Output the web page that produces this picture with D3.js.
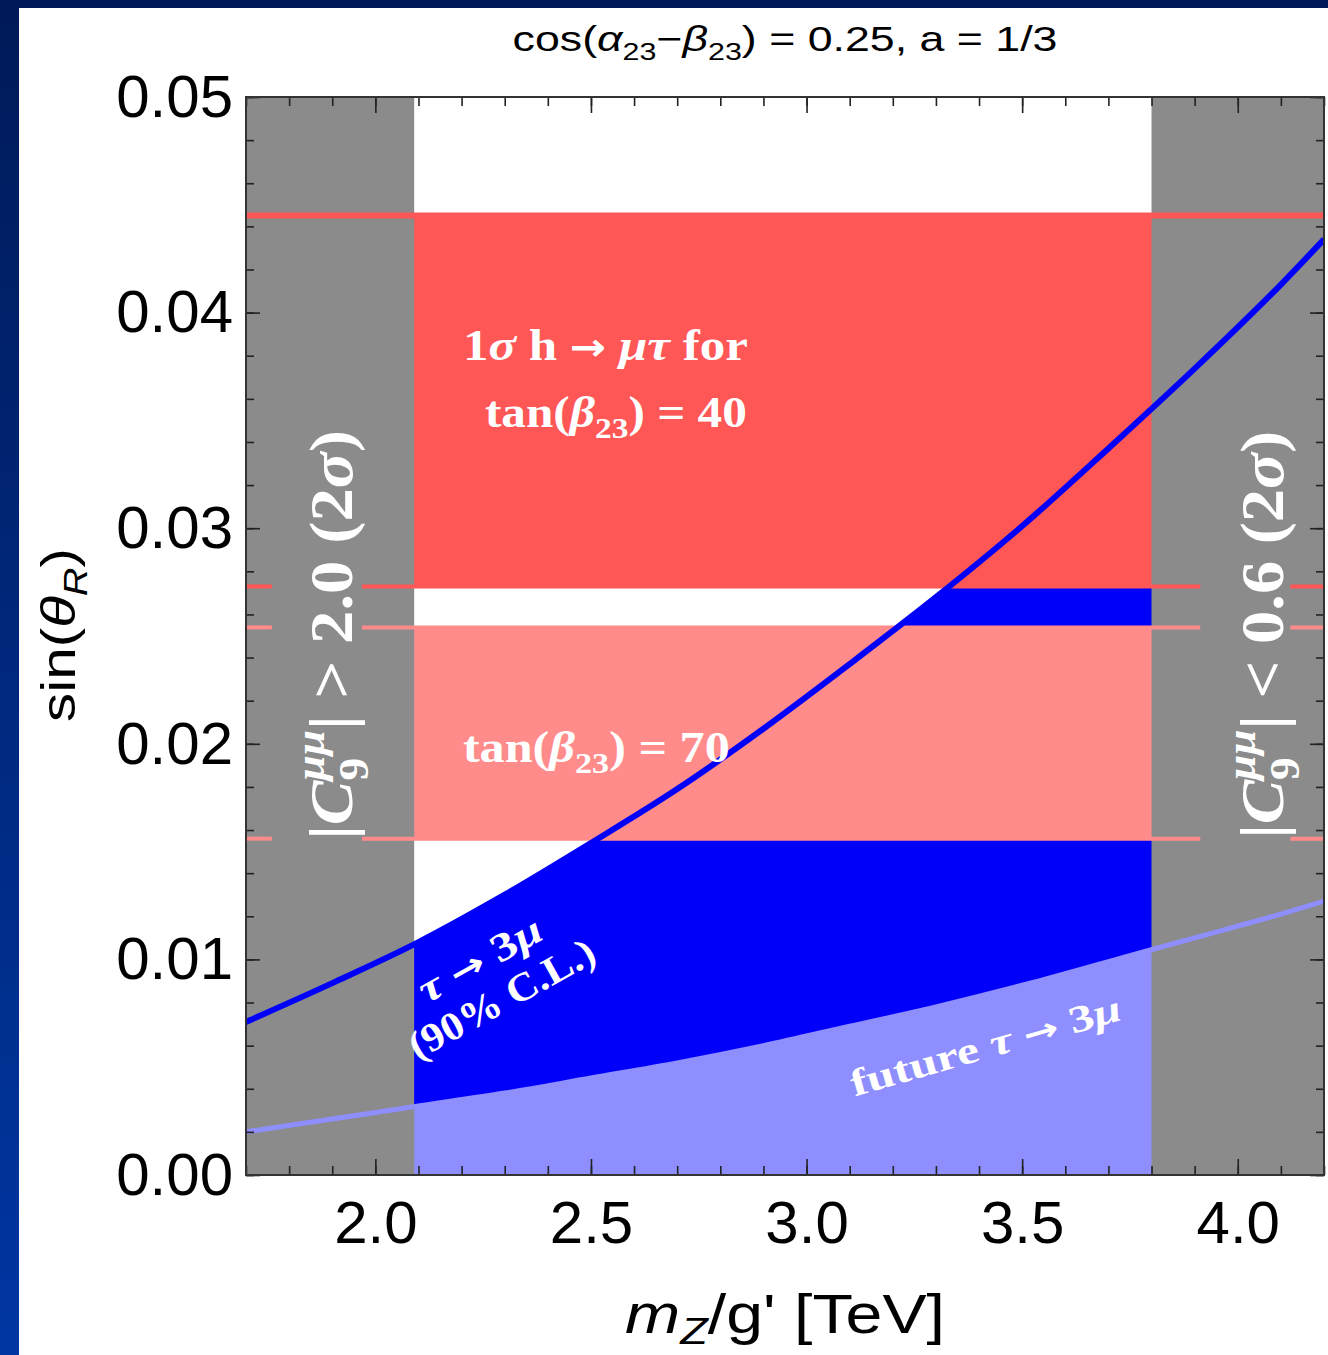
<!DOCTYPE html>
<html><head><meta charset="utf-8">
<script src="https://cdn.jsdelivr.net/npm/d3@7"></script>
<style>body{margin:0;background:#fff}svg{display:block}</style>
</head><body>
<svg id="c" width="1328" height="1355"></svg>
<script>
// ---------------- data ----------------
const xDomain = [1.7, 4.2];
const yDomain = [0, 0.05];
const excludedRegions = [[1.7, 2.09], [3.80, 4.2]];
const bandTan40 = [0.0273, 0.0445];
const bandTan70 = [0.0156, 0.0254];
const massPoints    = [1.7, 1.9, 2.1, 2.3, 2.5, 2.7, 2.9, 3.1, 3.3, 3.5, 3.7, 3.9, 4.1, 4.2];
const tau3muCurrent = [0.0071, 0.0089, 0.0108, 0.0130, 0.0154, 0.0179, 0.0207, 0.0237, 0.0268, 0.0301, 0.0337, 0.0374, 0.0413, 0.0434];
const tau3muFuture  = [0.0020, 0.0026, 0.0032, 0.0038, 0.0045, 0.0052, 0.0060, 0.0069, 0.0078, 0.0088, 0.0099, 0.0110, 0.0121, 0.0127];
const xTickLabels = ["2.0", "2.5", "3.0", "3.5", "4.0"];
const yTickLabels = ["0.00", "0.01", "0.02", "0.03", "0.04", "0.05"];
const labelGaps = [[1.760, 1.969], [3.913, 4.122]];

// ---------------- setup ----------------
const W = 1328, H = 1355;
const P = {l: 246, r: 1324, t: 97, b: 1175};
const SANS = "'Liberation Sans', Arial, Helvetica, sans-serif";
const SERIF = "'Liberation Serif', 'Times New Roman', serif";
const ARROWF = "'DejaVu Sans', sans-serif";
const C = {gray: '#8b8b8b', red: '#ff5656', pink: '#ff8b8b', blue: '#0000fa', lblue: '#8e8eff'};

const x = d3.scaleLinear().domain(xDomain).range([P.l, P.r]);
const y = d3.scaleLinear().domain(yDomain).range([P.b, P.t]);

const svg = d3.select('#c');
const defs = svg.append('defs');
const grad = defs.append('linearGradient').attr('id', 'bg').attr('x1', 0).attr('y1', 0).attr('x2', 0).attr('y2', 1);
grad.append('stop').attr('offset', 0).attr('stop-color', '#001a58');
grad.append('stop').attr('offset', 1).attr('stop-color', '#0036a2');
svg.append('rect').attr('width', W).attr('height', H).attr('fill', 'url(#bg)');
svg.append('rect').attr('x', 19).attr('y', 8).attr('width', W - 19).attr('height', H - 8).attr('fill', '#fff');

defs.append('clipPath').attr('id', 'plotclip').append('rect')
  .attr('x', P.l).attr('y', P.t).attr('width', P.r - P.l).attr('height', P.b - P.t);
const plot = svg.append('g').attr('clip-path', 'url(#plotclip)');

const rows = massPoints.map((m, i) => ({m, cur: tau3muCurrent[i], fut: tau3muFuture[i]}));

// fills
plot.append('path').datum(rows).attr('fill', C.lblue)
  .attr('d', d3.area().x(d => x(d.m)).y0(y(0)).y1(d => y(d.fut)).curve(d3.curveMonotoneX));
plot.append('path').datum(rows).attr('fill', C.blue)
  .attr('d', d3.area().x(d => x(d.m)).y0(d => y(d.fut)).y1(d => y(d.cur)).curve(d3.curveMonotoneX));

// red bands
[[bandTan40, C.red], [bandTan70, C.pink]].forEach(([b, col]) => {
  plot.append('rect').attr('x', x(xDomain[0])).attr('width', x(xDomain[1]) - x(xDomain[0]))
    .attr('y', y(b[1])).attr('height', y(b[0]) - y(b[1])).attr('fill', col);
});

// excluded (gray) regions
excludedRegions.forEach(r => {
  plot.append('rect').attr('x', x(r[0])).attr('width', x(r[1]) - x(r[0]))
    .attr('y', y(yDomain[1])).attr('height', y(yDomain[0]) - y(yDomain[1])).attr('fill', C.gray);
});

// red band boundary lines
plot.append('line').attr('x1', x(xDomain[0])).attr('x2', x(xDomain[1]))
  .attr('y1', y(bandTan40[1])).attr('y2', y(bandTan40[1])).attr('stroke', C.red).attr('stroke-width', 6);
function segmentsOutsideGaps() {
  const segs = []; let start = xDomain[0];
  labelGaps.forEach(g => { segs.push([start, g[0]]); start = g[1]; });
  segs.push([start, xDomain[1]]);
  return segs;
}
[[bandTan40[0], C.red], [bandTan70[1], C.pink], [bandTan70[0], C.pink]].forEach(([v, col]) => {
  segmentsOutsideGaps().forEach(s => {
    plot.append('line').attr('x1', x(s[0])).attr('x2', x(s[1])).attr('y1', y(v)).attr('y2', y(v))
      .attr('stroke', col).attr('stroke-width', 4);
  });
});

// curves
plot.append('path').datum(rows).attr('fill', 'none').attr('stroke', C.lblue).attr('stroke-width', 5)
  .attr('d', d3.line().x(d => x(d.m)).y(d => y(d.fut)).curve(d3.curveMonotoneX));
plot.append('path').datum(rows).attr('fill', 'none').attr('stroke', C.blue).attr('stroke-width', 6)
  .attr('d', d3.line().x(d => x(d.m)).y(d => y(d.cur)).curve(d3.curveMonotoneX));

// ---------------- axes ----------------
const xMajor = xTickLabels.map(Number);
const yMajor = yTickLabels.map(Number);
const xMinor = d3.range(Math.round(xDomain[0] * 10), Math.round(xDomain[1] * 10) + 1).map(v => v / 10);
const yMinor = d3.range(0, 26).map(v => v * 0.002);

function styleAxis(ga) {
  ga.select('.domain').remove();
  ga.selectAll('line').attr('stroke', '#222').attr('stroke-width', 1.6);
  ga.selectAll('text').attr('font-family', SANS).attr('font-size', 60).attr('fill', '#000');
}
const axLayer = svg.append('g');
axLayer.append('g').attr('transform', `translate(0,${P.b})`).call(d3.axisBottom(x).tickValues(xMinor).tickSize(-9).tickFormat('')).call(styleAxis);
axLayer.append('g').attr('transform', `translate(0,${P.t})`).call(d3.axisTop(x).tickValues(xMinor).tickSize(-9).tickFormat('')).call(styleAxis);
axLayer.append('g').attr('transform', `translate(${P.l},0)`).call(d3.axisLeft(y).tickValues(yMinor).tickSize(-8).tickFormat('')).call(styleAxis);
axLayer.append('g').attr('transform', `translate(${P.r},0)`).call(d3.axisRight(y).tickValues(yMinor).tickSize(-8).tickFormat('')).call(styleAxis);
axLayer.append('g').attr('transform', `translate(0,${P.b})`)
  .call(d3.axisBottom(x).tickValues(xMajor).tickSize(-16).tickPadding(25).tickFormat((d, i) => xTickLabels[i])).call(styleAxis);
axLayer.append('g').attr('transform', `translate(0,${P.t})`)
  .call(d3.axisTop(x).tickValues(xMajor).tickSize(-16).tickFormat('')).call(styleAxis);
axLayer.append('g').attr('transform', `translate(${P.l},0)`)
  .call(d3.axisLeft(y).tickValues(yMajor).tickSize(-14).tickPadding(13).tickFormat((d, i) => yTickLabels[i])).call(styleAxis);
axLayer.append('g').attr('transform', `translate(${P.r},0)`)
  .call(d3.axisRight(y).tickValues(yMajor).tickSize(-14).tickFormat('')).call(styleAxis);
svg.append('rect').attr('x', P.l).attr('y', P.t).attr('width', P.r - P.l).attr('height', P.b - P.t)
  .attr('fill', 'none').attr('stroke', '#333').attr('stroke-width', 2);

// ---------------- rich text ----------------
function rich(t, parts, fs) {
  let prevShift = 0;
  parts.forEach(p => {
    const o = p[1] || {};
    const subK = o.subK || 0.25;
    const shift = o.sub ? subK * fs : o.sup ? -0.45 * fs : 0;
    const ts = t.append('tspan').text(p[0])
      .attr('font-size', (o.sub || o.sup) ? fs * 0.68 : (o.k ? fs * o.k : fs))
      .attr('dy', shift - prevShift);
    if (o.i) ts.attr('font-style', 'italic');
    if (o.f) ts.attr('font-family', o.f).attr('font-weight', 'bold');
    if (o.back) {
      const nodes = t.selectAll('tspan').nodes();
      ts.attr('dx', -nodes[nodes.length - 2].getComputedTextLength());
    }
    prevShift = shift;
  });
}
function label(px, py, angle, lines, opt) {
  const g = svg.append('g').attr('transform', `translate(${px},${py}) rotate(${angle})`);
  lines.forEach((ln, i) => {
    const t = g.append('text').attr('x', 0).attr('y', i * (opt.lh || 0))
      .attr('text-anchor', opt.anchor || 'start')
      .attr('font-family', opt.family).attr('font-weight', opt.weight || 'normal')
      .attr('fill', opt.fill || '#000');
    rich(t, ln, opt.fs);
    if (opt.widths && opt.widths[i]) {
      const w = t.node().getBBox().width;
      const k = opt.widths[i] / w;
      t.attr('transform', `translate(0,${i * (opt.lh || 0)}) scale(${k},1) translate(0,${-i * (opt.lh || 0)})`);
    }
  });
  return g;
}
const ARR = {f: ARROWF, k: 0.85};

// title
label(785, 51, 0, [[["cos("], ["α", {i: 1}], ["23", {sub: 1}], ["−"], ["β", {i: 1}], ["23", {sub: 1}], [") = 0.25, a = 1/3"]]],
  {family: SANS, fs: 36, anchor: 'middle', widths: [545]});
// axis titles
label(785, 1333, 0, [[["m", {i: 1}], ["Z", {sub: 1, i: 1, subK: 0.2}], ["/g' [TeV]"]]],
  {family: SANS, fs: 55, anchor: 'middle', widths: [320]});
label(75, 635, -90, [[["sin("], ["θ", {i: 1}], ["R", {sub: 1, i: 1}], [")"]]],
  {family: SANS, fs: 48, anchor: 'middle', widths: [174]});

// in-plot annotations (positions in data coordinates)
const W1 = {family: SERIF, weight: 'bold', fill: '#fff'};
label(x(2.203), y(0.0378), 0, [[["1"], ["σ", {i: 1}], [" h "], ["→", ARR], [" "], ["μτ", {i: 1}], [" for"]]],
  Object.assign({fs: 44, widths: [285]}, W1));
label(x(2.254), y(0.0347), 0, [[["tan("], ["β", {i: 1}], ["23", {sub: 1}], [") = 40"]]],
  Object.assign({fs: 44, widths: [262]}, W1));
label(x(2.203), y(0.01916), 0, [[["tan("], ["β", {i: 1}], ["23", {sub: 1}], [") = 70"]]],
  Object.assign({fs: 44, widths: [267]}, W1));
label(x(2.257), y(0.00946), -29, [
    [["τ", {i: 1}], [" "], ["→", ARR], [" 3"], ["μ", {i: 1}]],
    [["(90% C.L.)"]]],
  Object.assign({fs: 40, lh: 45, anchor: 'middle', widths: [136, 207]}, W1));
label(x(3.423), y(0.00543), -16, [[["future "], ["τ", {i: 1}], [" "], ["→", ARR], [" 3"], ["μ", {i: 1}]]],
  Object.assign({fs: 38, anchor: 'middle', widths: [280]}, W1));
// side labels in excluded regions
label(x(1.946), y(0.02505), -90, [[["|"], ["C", {i: 1}], ["9", {sub: 1}], ["μμ", {sup: 1, i: 1, back: 1}], ["| > 2.0 (2"], ["σ", {i: 1}], [")"]]],
  Object.assign({fs: 62, anchor: 'middle', widths: [410]}, W1));
label(x(4.105), y(0.02505), -90, [[["|"], ["C", {i: 1}], ["9", {sub: 1}], ["μμ", {sup: 1, i: 1, back: 1}], ["| < 0.6 (2"], ["σ", {i: 1}], [")"]]],
  Object.assign({fs: 62, anchor: 'middle', widths: [408]}, W1));
</script>
</body></html>
